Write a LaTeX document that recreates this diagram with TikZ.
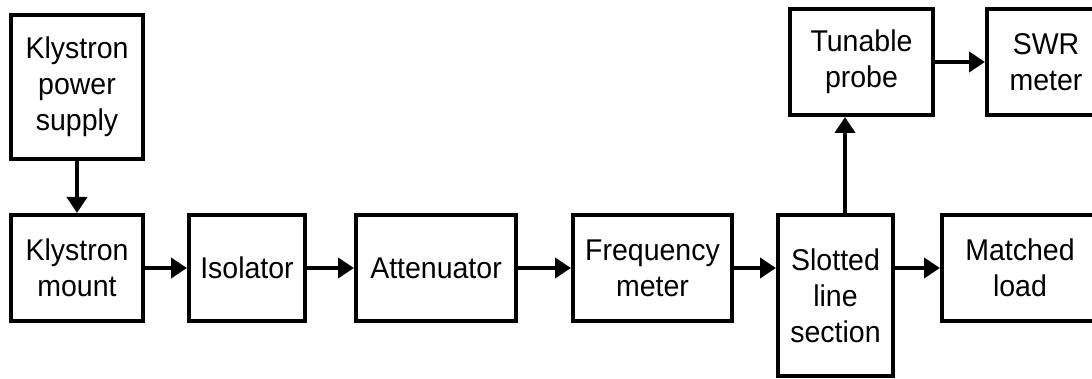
\documentclass[tikz,border=0pt]{standalone}
\usepackage{fontspec}
\setmainfont{Liberation Sans}[FakeStretch=0.95]
\usetikzlibrary{arrows.meta}
\begin{document}
\begin{tikzpicture}[x=1pt,y=-1pt,
  blk/.style={draw, line width=4pt, inner sep=0pt, align=center,
    font=\fontsize{30}{36}\selectfont},
  arr/.style={line width=4pt, -{Triangle[length=16pt,width=20pt]}}]
  \useasboundingbox (0,0) rectangle (1092,379);
  % blocks (centres and sizes measured along the line centres)
  \node[blk, minimum width=132pt, minimum height=144pt] (kps)   at (77,87)    {Klystron\\power\\supply};
  \node[blk, minimum width=132pt, minimum height=106pt] (km)    at (77,268)   {Klystron\\mount};
  \node[blk, minimum width=116pt, minimum height=106pt] (iso)   at (247,268)  {Isolator};
  \node[blk, minimum width=160pt, minimum height=106pt] (att)   at (436,268)  {Attenuator};
  \node[blk, minimum width=159pt, minimum height=106pt] (freq)  at (652.5,268) {Frequency\\meter};
  \node[blk, minimum width=115pt, minimum height=161pt] (slot)  at (835.5,295.5) {Slotted\\line\\section};
  \node[blk, minimum width=156pt, minimum height=106pt] (load)  at (1020,268)  {Matched\\load};
  \node[blk, minimum width=143pt, minimum height=106pt] (probe) at (861.5,62)  {Tunable\\probe};
  \node[blk, minimum width=118pt, minimum height=106pt] (swr)   at (1046,62)   {SWR\\meter};
  % signal path
  \draw[arr] (kps.south) -- (km.north);
  \draw[arr] (km.east) -- (iso.west);
  \draw[arr] (iso.east) -- (att.west);
  \draw[arr] (att.east) -- (freq.west);
  \draw[arr] (freq.east) -- (freq.east -| slot.west);
  \draw[arr] (slot.east |- load.west) -- (load.west);
  \draw[arr] ([xshift=9.5pt]slot.north) -- ([xshift=9.5pt]slot.north |- probe.south);
  \draw[arr] (probe.east) -- (swr.west);
\end{tikzpicture}
\end{document}
